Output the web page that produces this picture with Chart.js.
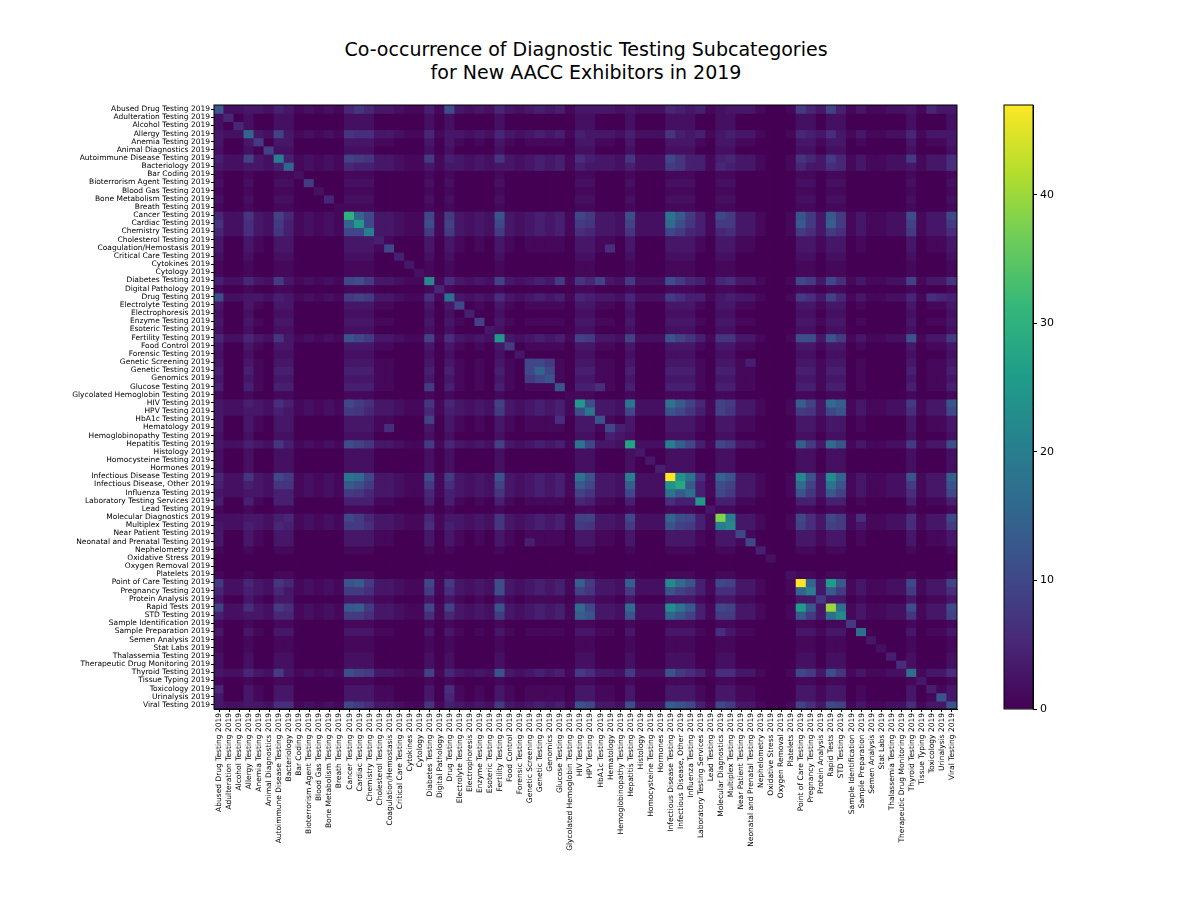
<!DOCTYPE html>
<html>
<head>
<meta charset="utf-8">
<script src="https://cdn.jsdelivr.net/npm/chart.js@4.4.0/dist/chart.umd.min.js"></script>
<style>
  body { margin: 0; background: #fff; font-family: "DejaVu Sans", sans-serif; }
  #title { position: absolute; left: 0; width: 1172px; top: 38px; text-align: center; font-size: 19px; line-height: 23px; color: #000; }
  #main { position: absolute; left: 0; top: 0; }
  #bar { position: absolute; left: 980px; top: 0; }
</style>
</head>
<body>
<div id="title">Co-occurrence of Diagnostic Testing Subcategories<br>for New AACC Exhibitors in 2019</div>
<div id="main" style="width:1196px;height:904px"><canvas id="heatmap"></canvas></div>
<div id="bar" style="width:216px;height:904px"><canvas id="colorbar"></canvas></div>
<script>
// Categories (same order on both axes)
const categories = ['Abused Drug Testing 2019', 'Adulteration Testing 2019', 'Alcohol Testing 2019', 'Allergy Testing 2019',
  'Anemia Testing 2019', 'Animal Diagnostics 2019', 'Autoimmune Disease Testing 2019', 'Bacteriology 2019', 'Bar Coding 2019',
  'Bioterrorism Agent Testing 2019', 'Blood Gas Testing 2019', 'Bone Metabolism Testing 2019', 'Breath Testing 2019',
  'Cancer Testing 2019', 'Cardiac Testing 2019', 'Chemistry Testing 2019', 'Cholesterol Testing 2019', 'Coagulation/Hemostasis 2019',
  'Critical Care Testing 2019', 'Cytokines 2019', 'Cytology 2019', 'Diabetes Testing 2019', 'Digital Pathology 2019',
  'Drug Testing 2019', 'Electrolyte Testing 2019', 'Electrophoresis 2019', 'Enzyme Testing 2019', 'Esoteric Testing 2019',
  'Fertility Testing 2019', 'Food Control 2019', 'Forensic Testing 2019', 'Genetic Screening 2019', 'Genetic Testing 2019',
  'Genomics 2019', 'Glucose Testing 2019', 'Glycolated Hemoglobin Testing 2019', 'HIV Testing 2019', 'HPV Testing 2019',
  'HbA1c Testing 2019', 'Hematology 2019', 'Hemoglobinopathy Testing 2019', 'Hepatitis Testing 2019', 'Histology 2019',
  'Homocysteine Testing 2019', 'Hormones 2019', 'Infectious Disease Testing 2019', 'Infectious Disease, Other 2019',
  'Influenza Testing 2019', 'Laboratory Testing Services 2019', 'Lead Testing 2019', 'Molecular Diagnostics 2019',
  'Multiplex Testing 2019', 'Near Patient Testing 2019', 'Neonatal and Prenatal Testing 2019', 'Nephelometry 2019',
  'Oxidative Stress 2019', 'Oxygen Removal 2019', 'Platelets 2019', 'Point of Care Testing 2019', 'Pregnancy Testing 2019',
  'Protein Analysis 2019', 'Rapid Tests 2019', 'STD Testing 2019', 'Sample Identification 2019', 'Sample Preparation 2019',
  'Semen Analysis 2019', 'Stat Labs 2019', 'Thalassemia Testing 2019', 'Therapeutic Drug Monitoring 2019', 'Thyroid Testing 2019',
  'Tissue Typing 2019', 'Toxicology 2019', 'Urinalysis 2019', 'Viral Testing 2019'];

// Diagonal (exhibitors per subcategory)
const diagonal = [13, 5, 5, 15, 8, 9, 20, 15, 2, 8, 2, 5, 1, 30, 25, 20, 4, 10, 4, 3, 2, 22, 5, 17, 10, 4, 9, 3, 25, 8,
  3, 10, 15, 12, 12, 1, 25, 18, 12, 10, 3, 27, 3, 3, 4, 47, 28, 17, 25, 3, 38, 22, 10, 10, 4, 2, 0, 2, 47, 20,
  8, 40, 22, 8, 17, 3, 2, 4, 6, 17, 3, 4, 12, 12];

// Busy subcategories (rows/columns with visible bands)
const hubs = [0, 3, 6, 7, 13, 14, 15, 21, 23, 28, 36, 37, 41, 45, 46, 47, 50, 51, 58, 59, 61, 62, 69, 73];
// Upper triangle of the block between busy subcategories, row by row (after the diagonal)
const hubBlock = [
  [3, 4, 3, 5, 7, 5, 4, 11, 5, 3, 3, 3, 5, 4, 3, 2, 3, 8, 5, 9, 4, 3, 3],
  [9, 3, 7, 6, 6, 5, 3, 5, 4, 3, 4, 7, 4, 3, 3, 4, 5, 4, 6, 3, 5, 3],
  [4, 9, 8, 7, 8, 4, 7, 6, 4, 7, 10, 7, 4, 4, 5, 7, 5, 8, 5, 8, 6],
  [5, 4, 4, 3, 3, 3, 4, 3, 4, 8, 7, 4, 5, 4, 5, 3, 6, 5, 3, 6],
  [15, 10, 10, 8, 12, 10, 8, 11, 18, 13, 8, 10, 8, 12, 8, 13, 8, 11, 10],
  [10, 11, 9, 10, 8, 7, 9, 16, 11, 7, 8, 8, 13, 8, 14, 8, 9, 8],
  [8, 8, 8, 6, 5, 7, 10, 8, 5, 5, 6, 8, 6, 8, 6, 8, 6],
  [6, 9, 7, 5, 8, 11, 8, 5, 5, 6, 10, 8, 10, 6, 9, 7],
  [6, 5, 4, 5, 8, 6, 4, 3, 4, 8, 6, 9, 5, 5, 4],
  [9, 8, 9, 12, 9, 7, 7, 7, 11, 11, 12, 8, 12, 8],
  [11, 18, 18, 13, 9, 9, 8, 14, 9, 16, 14, 8, 12],
  [10, 12, 10, 7, 9, 7, 8, 7, 10, 12, 6, 10],
  [20, 14, 10, 10, 8, 14, 8, 16, 12, 8, 11],
  [24, 18, 15, 12, 22, 12, 23, 15, 12, 14],
  [13, 11, 9, 16, 9, 18, 12, 8, 12],
  [10, 8, 12, 7, 13, 9, 6, 10],
  [20, 10, 6, 10, 8, 6, 10],
  [9, 6, 9, 8, 6, 8],
  [15, 26, 13, 10, 9],
  [13, 8, 8, 6],
  [17, 11, 10],
  [7, 9],
  [6],
  []
];
// Typical value of each quieter subcategory against the busy ones
const rowLevel = [0, 2, 2, 0, 3, 2, 0, 0, 1, 2, 1, 2, 1, 0, 0, 0, 3, 3, 2, 1, 1, 0, 1, 0, 3, 2, 3, 2, 0, 3,
  2, 3, 4, 3, 4, 1, 0, 0, 3, 3, 2, 0, 2, 2, 2, 0, 0, 0, 4, 1, 0, 0, 3, 3, 1, 0, 0, 1, 0, 0,
  3, 0, 0, 1, 3, 1, 1, 2, 2, 0, 1, 3, 3, 0];
// Other pairs that stand out
const extraPairs = [[31, 32, 10], [32, 33, 10], [31, 33, 8], [21, 34, 8], [21, 38, 9], [34, 38, 6], [50, 64, 6],
  [23, 72, 5], [23, 71, 6], [0, 71, 5], [17, 39, 6], [39, 40, 4], [31, 53, 4], [36, 48, 5], [45, 48, 6]];

const n = categories.length;
const matrix = [];
for (let i = 0; i < n; i++) {
  matrix.push([]);
  for (let j = 0; j < n; j++) {
    if (i === j) matrix[i].push(diagonal[i]);
    else if (hubs.includes(i) && hubs.includes(j)) matrix[i].push(0);
    else if (hubs.includes(j)) matrix[i].push(rowLevel[i]);
    else if (hubs.includes(i)) matrix[i].push(rowLevel[j]);
    else matrix[i].push(rowLevel[i] >= 3 && rowLevel[j] >= 3 ? 1 : 0);
  }
}
hubBlock.forEach((row, a) => {
  row.forEach((v, k) => {
    const i = hubs[a], j = hubs[a + k + 1];
    matrix[i][j] = v; matrix[j][i] = v;
  });
});
extraPairs.forEach(([i, j, v]) => { matrix[i][j] = v; matrix[j][i] = v; });

const vmax = 47;
const viridis = [[68, 1, 84], [72, 40, 120], [62, 74, 137], [49, 104, 142], [38, 130, 142],
  [31, 158, 137], [53, 183, 121], [109, 205, 89], [180, 222, 44], [253, 231, 37]];
function colorFor(v) {
  const t = Math.max(0, Math.min(1, v / vmax)) * (viridis.length - 1);
  const k = Math.min(Math.floor(t), viridis.length - 2), f = t - k;
  const c = viridis[k].map((a, m) => Math.round(a + (viridis[k + 1][m] - a) * f));
  return 'rgb(' + c.join(',') + ')';
}

const frame = {
  id: 'frame',
  afterDatasetsDraw(chart) {
    const { ctx, chartArea: a } = chart;
    ctx.save();
    ctx.strokeStyle = '#000';
    ctx.lineWidth = 1;
    ctx.strokeRect(a.left, a.top, a.right - a.left, a.bottom - a.top);
    ctx.restore();
  }
};

const tickFont = { family: 'DejaVu Sans', size: 7.5 };
const tickGrid = { display: true, drawOnChartArea: false, drawTicks: true, tickLength: 3, color: '#000' };
new Chart(document.getElementById('heatmap'), {
  type: 'bar',
  data: {
    labels: categories,
    datasets: matrix.map((row, i) => ({
      data: row.map(() => [i, i + 1]),
      backgroundColor: row.map(colorFor),
      borderWidth: 0,
      inflateAmount: 0.6,
      grouped: false,
      barPercentage: 1,
      categoryPercentage: 1
    }))
  },
  plugins: [frame],
  options: {
    responsive: true,
    maintainAspectRatio: false,
    animation: false,
    layout: { padding: { top: 105, right: 239, left: 0, bottom: 0 } },
    plugins: { legend: { display: false }, tooltip: { enabled: false } },
    scales: {
      x: {
        afterFit: (s) => { s.height = 195; },
        grid: Object.assign({ offset: false }, tickGrid),
        border: { color: '#000' },
        ticks: { autoSkip: false, maxRotation: 90, minRotation: 90, color: '#000', font: tickFont, padding: 1 }
      },
      y: {
        type: 'linear', min: 0, max: n, reverse: true,
        afterFit: (s) => { s.width = 214; },
        afterBuildTicks: (s) => { s.ticks = categories.map((c, i) => ({ value: i + 0.5 })); },
        grid: tickGrid,
        border: { color: '#000' },
        ticks: { autoSkip: false, color: '#000', font: tickFont, padding: 1,
          callback: (v) => categories[Math.floor(v)] }
      }
    }
  }
});

// Colour bar
const barTicks = [0, 10, 20, 30, 40];
new Chart(document.getElementById('colorbar'), {
  type: 'bar',
  data: {
    labels: [''],
    datasets: [{
      data: [[0, vmax]],
      borderWidth: 0,
      barPercentage: 1,
      categoryPercentage: 1,
      backgroundColor: (c) => {
        const a = c.chart.chartArea;
        if (!a) return '#440154';
        const g = c.chart.ctx.createLinearGradient(0, a.bottom, 0, a.top);
        viridis.forEach((col, k) => g.addColorStop(k / (viridis.length - 1), 'rgb(' + col.join(',') + ')'));
        return g;
      }
    }]
  },
  plugins: [frame],
  options: {
    responsive: true,
    maintainAspectRatio: false,
    animation: false,
    layout: { padding: { top: 105, left: 24, right: 123, bottom: 195 } },
    plugins: { legend: { display: false }, tooltip: { enabled: false } },
    scales: {
      x: { display: false },
      y: {
        position: 'right', min: 0, max: vmax,
        afterFit: (s) => { s.width = 40; },
        afterBuildTicks: (s) => { s.ticks = barTicks.map(v => ({ value: v })); },
        grid: { display: true, drawOnChartArea: false, drawTicks: true, tickLength: 4, color: '#000' },
        border: { color: '#000' },
        ticks: { color: '#000', font: { family: 'DejaVu Sans', size: 11 } }
      }
    }
  }
});
</script>
</body>
</html>
